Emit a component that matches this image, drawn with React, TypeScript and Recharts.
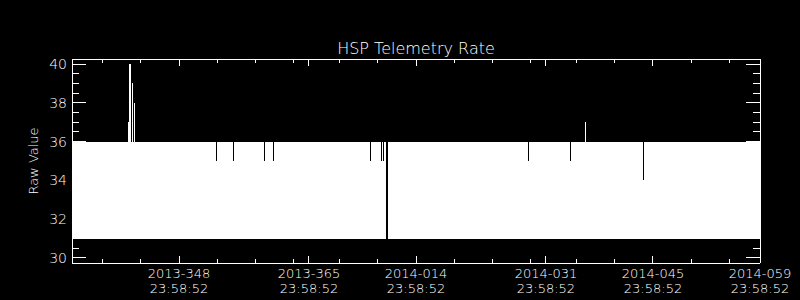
import React from 'react';
import { ComposedChart, Area, Line, XAxis, YAxis } from 'recharts';

// Envelope of the telemetry rate (min / max raw value per time step), days since 2013-334 23:58:52
const dayOffsets = [
  0, 7.37, 7.5, 7.68, 7.85, 8.0, 8.11, 8.27,
  18.87, 19.0, 21.04, 21.17, 25.1, 25.23, 26.27, 26.4,
  38.92, 39.05, 40.36, 40.49, 40.62, 40.75, 40.88, 41.01, 41.08, 41.09, 41.4,
  59.63, 59.76, 65.12, 65.25, 67.08, 67.21, 74.67, 74.8, 90,
];
const maxValues: (number | null)[] = [
  36, 37, 40, 36, 39, 36, 38, 36,
  35, 36, 35, 36, 35, 36, 35, 36,
  35, 36, 35, 36, 35, 36, 34, 36, 36, null, 36,
  35, 36, 35, 36, 37, 36, 34, 36, 36,
];
const minValues: (number | null)[] = [
  31, 31, 31, 31, 31, 31, 31, 31,
  31, 31, 31, 31, 31, 31, 31, 31,
  31, 31, 31, 31, 31, 31, 31, 31, 31, null, 31,
  31, 31, 31, 31, 31, 31, 31, 31, 31,
];

const xMajorTicks = [14, 31, 45, 62, 76, 90];
const xMajorLabels = ['2013-348', '2013-365', '2014-014', '2014-031', '2014-045', '2014-059'];
const xTimeLabel = '23:58:52';
const xMinorTicks = [4, 9, 19, 24, 29, 35, 40, 50, 55, 60, 66, 71, 81, 86];
const yMajorTicks = [30, 32, 34, 36, 38, 40];
const yMinorTicks = [30.5, 31, 31.5, 32.5, 33, 33.5, 34.5, 35, 35.5, 36.5, 37, 37.5, 38.5, 39, 39.5];
const chartTitle = 'HSP Telemetry Rate';
const yAxisTitle = 'Raw Value';

const data = dayOffsets.map((t, i) => ({
  t,
  range: maxValues[i] == null ? null : [minValues[i], maxValues[i]],
}));

const allXTicks = [...xMajorTicks, ...xMinorTicks].sort((a, b) => a - b);
const allYTicks = [...yMajorTicks, ...yMinorTicks].sort((a, b) => a - b);

const FONT = '"DejaVu Sans", sans-serif';
const FW = 200;
const WHITE = '#ffffff';

const BottomTick = (props: any) => {
  const { x, y, payload } = props;
  const idx = xMajorTicks.indexOf(payload.value);
  const major = idx >= 0;
  return (
    <g>
      <line x1={x} x2={x} y1={y} y2={y - (major ? 7 : 4)} stroke={WHITE} shapeRendering="crispEdges" />
      {major && (
        <text x={x} y={y + 15} textAnchor="middle" fill={WHITE} fontSize={13} fontWeight={FW} fontFamily={FONT}>
          {xMajorLabels[idx]}
        </text>
      )}
      {major && (
        <text x={x} y={y + 30} textAnchor="middle" fill={WHITE} fontSize={13} fontWeight={FW} fontFamily={FONT}>
          {xTimeLabel}
        </text>
      )}
    </g>
  );
};

const TopTick = (props: any) => {
  const { x, y, payload } = props;
  const major = xMajorTicks.indexOf(payload.value) >= 0;
  return <line x1={x} x2={x} y1={y} y2={y + (major ? 7 : 4)} stroke={WHITE} shapeRendering="crispEdges" />;
};

const LeftTick = (props: any) => {
  const { x, y, payload } = props;
  const major = yMajorTicks.indexOf(payload.value) >= 0;
  return (
    <g>
      <line x1={x} x2={x + (major ? 14 : 7)} y1={y} y2={y} stroke={WHITE} shapeRendering="crispEdges" />
      {major && (
        <text x={x - 5} y={y + 5} textAnchor="end" fill={WHITE} fontSize={14} fontWeight={FW} fontFamily={FONT}>
          {payload.value}
        </text>
      )}
    </g>
  );
};

const RightTick = (props: any) => {
  const { x, y, payload } = props;
  const major = yMajorTicks.indexOf(payload.value) >= 0;
  return <line x1={x} x2={x - (major ? 14 : 7)} y1={y} y2={y} stroke={WHITE} shapeRendering="crispEdges" />;
};

const Y_DOMAIN: [number, number] = [29.742, 40.258];

export default function App() {
  return (
    <div style={{ position: 'absolute', left: 0, top: 0, width: 800, height: 300, background: '#000' }}>
      <ComposedChart
        width={800}
        height={300}
        data={data}
        margin={{ top: 58, right: 0, bottom: 0, left: 0 }}
      >
        <XAxis
          xAxisId="b"
          dataKey="t"
          type="number"
          domain={[0, 90]}
          allowDataOverflow
          ticks={allXTicks}
          interval={0}
          height={37}
          tickSize={0}
          tickMargin={0}
          tickLine={false}
          axisLine={{ stroke: WHITE, shapeRendering: 'crispEdges' }}
          tick={<BottomTick />}
        />
        <XAxis
          xAxisId="t"
          orientation="top"
          dataKey="t"
          type="number"
          domain={[0, 90]}
          allowDataOverflow
          ticks={allXTicks}
          interval={0}
          height={1}
          tickSize={0}
          tickMargin={0}
          tickLine={false}
          axisLine={{ stroke: WHITE, shapeRendering: 'crispEdges' }}
          tick={<TopTick />}
        />
        <YAxis
          yAxisId="l"
          type="number"
          domain={Y_DOMAIN}
          allowDataOverflow
          ticks={allYTicks}
          interval={0}
          width={72}
          tickSize={0}
          tickMargin={0}
          tickLine={false}
          axisLine={{ stroke: WHITE, shapeRendering: 'crispEdges' }}
          tick={<LeftTick />}
        />
        <YAxis
          yAxisId="r"
          orientation="right"
          type="number"
          domain={Y_DOMAIN}
          allowDataOverflow
          ticks={allYTicks}
          interval={0}
          width={40}
          tickSize={0}
          tickMargin={0}
          tickLine={false}
          axisLine={{ stroke: WHITE, shapeRendering: 'crispEdges' }}
          tick={<RightTick />}
        />
        <Area
          xAxisId="b"
          yAxisId="l"
          dataKey="range"
          type="stepAfter"
          fill={WHITE}
          fillOpacity={1}
          stroke="none"
          connectNulls={false}
          dot={false}
          activeDot={false}
          isAnimationActive={false}
          style={{ shapeRendering: 'crispEdges' }}
        />
        <Line
          xAxisId="t"
          yAxisId="r"
          dataKey={(d: any) => (d.range ? d.range[1] : null)}
          stroke="none"
          dot={false}
          activeDot={false}
          isAnimationActive={false}
        />
      </ComposedChart>
      <svg
        width={800}
        height={300}
        style={{ position: 'absolute', left: 0, top: 0, pointerEvents: 'none' }}
      >
        <text x={416} y={53.5} textAnchor="middle" fill={WHITE} fontSize={16} fontWeight={FW} fontFamily={FONT}>
          {chartTitle}
        </text>
        <text
          x={38}
          y={161}
          textAnchor="middle"
          fill={WHITE}
          fontSize={13}
          fontWeight={FW}
          fontFamily={FONT}
          transform="rotate(-90, 38, 161)"
        >
          {yAxisTitle}
        </text>
      </svg>
    </div>
  );
}
